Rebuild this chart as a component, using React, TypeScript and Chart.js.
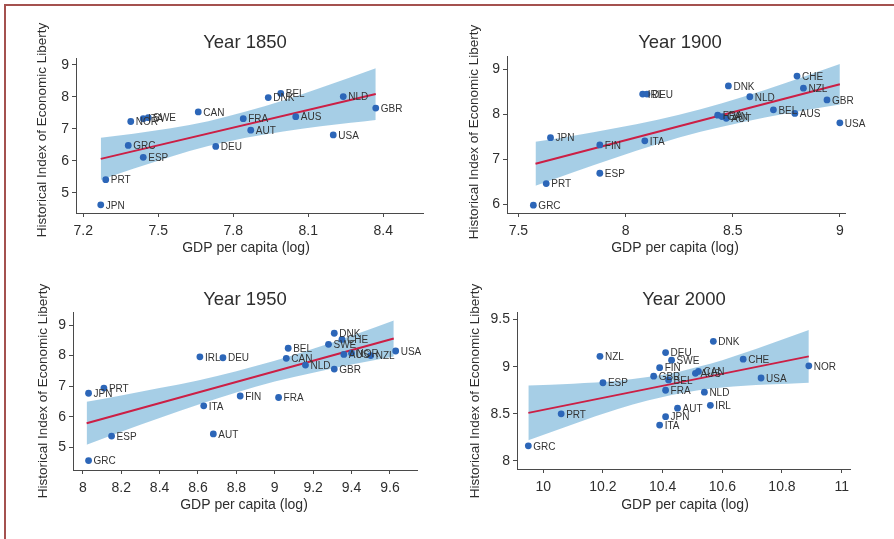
import React, { useEffect, useRef } from "react";
import { Chart, registerables } from "chart.js";

Chart.register(...registerables);

const FONT = "'Liberation Sans', Arial, Helvetica, sans-serif";

// ---------- Year 1850 ----------
const codes1850 = ["JPN", "PRT", "GRC", "ESP", "NOR", "ITA", "SWE", "CAN", "DEU", "FRA", "AUT", "DNK", "BEL", "AUS", "USA", "NLD", "GBR"];
const gdp1850 = [7.27, 7.29, 7.38, 7.44, 7.39, 7.44, 7.46, 7.66, 7.73, 7.84, 7.87, 7.94, 7.99, 8.05, 8.2, 8.24, 8.37];
const lib1850 = [4.62, 5.41, 6.48, 6.11, 7.23, 7.32, 7.35, 7.53, 6.45, 7.32, 6.96, 7.98, 8.11, 7.38, 6.81, 8.01, 7.65];
const fitX1850 = [7.27, 8.37];
const fitY1850 = [6.06, 8.09];
const bandX1850 = [7.27, 7.4, 7.55, 7.7, 7.85, 8.0, 8.15, 8.27, 8.37];
const bandHi1850 = [6.72, 6.85, 7.02, 7.24, 7.54, 7.89, 8.29, 8.62, 8.9];
const bandLo1850 = [5.4, 5.75, 6.13, 6.46, 6.72, 6.92, 7.08, 7.19, 7.28];
const xTicks1850 = [7.2, 7.5, 7.8, 8.1, 8.4];
const yTicks1850 = [5, 6, 7, 8, 9];

// ---------- Year 1900 ----------
const codes1900 = ["GRC", "PRT", "JPN", "FIN", "ESP", "ITA", "IRL", "DEU", "DNK", "NLD", "FRA", "CAN", "AUT", "BEL", "AUS", "CHE", "NZL", "GBR", "USA"];
const gdp1900 = [7.57, 7.63, 7.65, 7.88, 7.88, 8.09, 8.08, 8.1, 8.48, 8.58, 8.43, 8.45, 8.47, 8.69, 8.79, 8.8, 8.83, 8.94, 9.0];
const lib1900 = [5.98, 6.46, 7.48, 7.32, 6.69, 7.41, 8.45, 8.45, 8.63, 8.39, 7.98, 7.95, 7.91, 8.1, 8.02, 8.85, 8.58, 8.32, 7.81];
const fitX1900 = [7.58, 9.0];
const fitY1900 = [6.9, 8.67];
const bandX1900 = [7.58, 7.75, 7.95, 8.15, 8.35, 8.55, 8.75, 8.9, 9.0];
const bandHi1900 = [7.39, 7.52, 7.69, 7.88, 8.11, 8.39, 8.7, 8.95, 9.12];
const bandLo1900 = [6.41, 6.7, 7.03, 7.34, 7.61, 7.83, 8.02, 8.14, 8.22];
const xTicks1900 = [7.5, 8, 8.5, 9];
const yTicks1900 = [6, 7, 8, 9];

// ---------- Year 1950 ----------
const codes1950 = ["GRC", "JPN", "PRT", "ESP", "IRL", "DEU", "ITA", "AUT", "FIN", "FRA", "BEL", "CAN", "NLD", "GBR", "DNK", "SWE", "CHE", "AUS", "NOR", "NZL", "USA"];
const gdp1950 = [8.03, 8.03, 8.11, 8.15, 8.61, 8.73, 8.63, 8.68, 8.82, 9.02, 9.07, 9.06, 9.16, 9.31, 9.31, 9.28, 9.35, 9.36, 9.4, 9.5, 9.63];
const lib1950 = [4.57, 6.77, 6.94, 5.37, 7.96, 7.93, 6.36, 5.44, 6.68, 6.63, 8.24, 7.91, 7.69, 7.56, 8.73, 8.37, 8.53, 8.04, 8.08, 8.0, 8.15];
const fitX1950 = [8.02, 9.62];
const fitY1950 = [5.79, 8.56];
const bandX1950 = [8.02, 8.2, 8.4, 8.6, 8.8, 9.0, 9.2, 9.4, 9.62];
const bandHi1950 = [6.49, 6.7, 6.94, 7.19, 7.49, 7.83, 8.22, 8.65, 9.15];
const bandLo1950 = [5.09, 5.51, 5.96, 6.39, 6.79, 7.15, 7.44, 7.71, 7.97];
const xTicks1950 = [8, 8.2, 8.4, 8.6, 8.8, 9, 9.2, 9.4, 9.6];
const yTicks1950 = [5, 6, 7, 8, 9];

// ---------- Year 2000 ----------
const codes2000 = ["GRC", "PRT", "NZL", "ESP", "GBR", "FIN", "DEU", "SWE", "FRA", "BEL", "AUS", "CAN", "DNK", "NLD", "IRL", "AUT", "JPN", "ITA", "CHE", "USA", "NOR"];
const gdp2000 = [9.95, 10.06, 10.19, 10.2, 10.37, 10.39, 10.41, 10.43, 10.41, 10.42, 10.51, 10.52, 10.57, 10.54, 10.56, 10.45, 10.41, 10.39, 10.67, 10.73, 10.89];
const lib2000 = [8.16, 8.5, 9.11, 8.83, 8.9, 8.99, 9.15, 9.07, 8.75, 8.86, 8.93, 8.95, 9.27, 8.73, 8.59, 8.56, 8.47, 8.38, 9.08, 8.88, 9.01];
const fitX2000 = [9.95, 10.89];
const fitY2000 = [8.51, 9.11];
const bandX2000 = [9.95, 10.1, 10.25, 10.35, 10.43, 10.52, 10.6, 10.75, 10.89];
const bandHi2000 = [8.8, 8.82, 8.85, 8.89, 8.93, 9.0, 9.07, 9.23, 9.39];
const bandLo2000 = [8.22, 8.39, 8.55, 8.64, 8.7, 8.75, 8.78, 8.81, 8.83];
const xTicks2000 = [10, 10.2, 10.4, 10.6, 10.8, 11];
const yTicks2000 = [8, 8.5, 9, 9.5];

const Y_TITLE = "Historical Index of Economic Liberty";
const X_TITLE = "GDP per capita (log)";

type Panel = {
  title: string;
  codes: string[];
  gdp: number[];
  lib: number[];
  fitX: number[];
  fitY: number[];
  bandX: number[];
  bandHi: number[];
  bandLo: number[];
  xTicks: number[];
  yTicks: number[];
  box: { left: number; top: number; w: number; h: number };
  plot: { l: number; t: number; r: number; b: number };
  xRange: [number, number];
  yRange: [number, number];
  titlePos: [number, number];
  yTitlePos: [number, number];
  xTitlePos: [number, number];
};

const AXIS_W = 30;
const AXIS_H = 30;

const panels: Panel[] = [
  {
    title: "Year 1850", codes: codes1850, gdp: gdp1850, lib: lib1850,
    fitX: fitX1850, fitY: fitY1850, bandX: bandX1850, bandHi: bandHi1850, bandLo: bandLo1850,
    xTicks: xTicks1850, yTicks: yTicks1850,
    box: { left: 0, top: 0, w: 447, h: 270 },
    plot: { l: 76, t: 58, r: 423, b: 213 },
    xRange: [7.171, 8.559], yRange: [4.365, 9.219],
    titlePos: [245, 43], yTitlePos: [42, 130], xTitlePos: [246, 248],
  },
  {
    title: "Year 1900", codes: codes1900, gdp: gdp1900, lib: lib1900,
    fitX: fitX1900, fitY: fitY1900, bandX: bandX1900, bandHi: bandHi1900, bandLo: bandLo1900,
    xTicks: xTicks1900, yTicks: yTicks1900,
    box: { left: 447, top: 0, w: 447, h: 270 },
    plot: { l: 507, t: 56, r: 845, b: 213 },
    xRange: [7.447, 9.024], yRange: [5.807, 9.296],
    titlePos: [680, 43], yTitlePos: [474, 132], xTitlePos: [675, 248],
  },
  {
    title: "Year 1950", codes: codes1950, gdp: gdp1950, lib: lib1950,
    fitX: fitX1950, fitY: fitY1950, bandX: bandX1950, bandHi: bandHi1950, bandLo: bandLo1950,
    xTicks: xTicks1950, yTicks: yTicks1950,
    box: { left: 0, top: 270, w: 447, h: 269 },
    plot: { l: 73, t: 312, r: 417, b: 470 },
    xRange: [7.949, 9.741], yRange: [4.261, 9.425],
    titlePos: [245, 300], yTitlePos: [43, 391], xTitlePos: [244, 505],
  },
  {
    title: "Year 2000", codes: codes2000, gdp: gdp2000, lib: lib2000,
    fitX: fitX2000, fitY: fitY2000, bandX: bandX2000, bandHi: bandHi2000, bandLo: bandLo2000,
    xTicks: xTicks2000, yTicks: yTicks2000,
    box: { left: 447, top: 270, w: 447, h: 269 },
    plot: { l: 517, t: 312, r: 850, b: 469 },
    xRange: [9.912, 11.028], yRange: [7.914, 9.581],
    titlePos: [684, 300], yTitlePos: [475, 391], xTitlePos: [685, 505],
  },
];

const POINT_COLOR = "#2c66b8";
const LINE_COLOR = "#cc1f45";
const BAND_COLOR = "rgba(150, 198, 226, 0.85)";
const TEXT_COLOR = "#2e2e2e";
const AXIS_COLOR = "#4a4a4a";

function PanelChart({ p }: { p: Panel }) {
  const ref = useRef<HTMLCanvasElement>(null);

  useEffect(() => {
    const canvas = ref.current;
    if (!canvas) return;
    const ox = p.box.left;
    const oy = p.box.top;

    const textPlugin = {
      id: "panelText",
      afterDraw(chart: any) {
        const c = chart.ctx as CanvasRenderingContext2D;
        c.save();
        c.fillStyle = TEXT_COLOR;
        c.textAlign = "center";
        c.textBaseline = "middle";
        c.font = `18.5px ${FONT}`;
        c.fillText(p.title, p.titlePos[0] - ox, p.titlePos[1] - oy);
        c.font = `14px ${FONT}`;
        c.fillText(X_TITLE, p.xTitlePos[0] - ox, p.xTitlePos[1] - oy);
        c.translate(p.yTitlePos[0] - ox, p.yTitlePos[1] - oy);
        c.rotate(-Math.PI / 2);
        c.font = `13.5px ${FONT}`;
        c.fillText(Y_TITLE, 0, 0);
        c.restore();
      },
    };

    const labelPlugin = {
      id: "pointLabels",
      afterDatasetsDraw(chart: any) {
        const c = chart.ctx as CanvasRenderingContext2D;
        const meta = chart.getDatasetMeta(0);
        c.save();
        c.fillStyle = "#333333";
        c.font = `10px ${FONT}`;
        c.textAlign = "left";
        c.textBaseline = "middle";
        meta.data.forEach((el: any, i: number) => {
          c.fillText(p.codes[i], el.x + 5, el.y + 1);
        });
        c.restore();
      },
    };

    const pad = {
      left: p.plot.l - ox - AXIS_W,
      top: p.plot.t - oy,
      right: ox + p.box.w - p.plot.r,
      bottom: oy + p.box.h - p.plot.b - AXIS_H,
    };

    const chart = new Chart(canvas, {
      type: "scatter",
      data: {
        datasets: [
          {
            data: p.gdp.map((g, i) => ({ x: g, y: p.lib[i] })),
            backgroundColor: POINT_COLOR,
            borderColor: POINT_COLOR,
            pointRadius: 3.4,
            borderWidth: 0,
            clip: false as any,
          },
          {
            data: p.fitX.map((x, i) => ({ x, y: p.fitY[i] })),
            showLine: true,
            borderColor: LINE_COLOR,
            borderWidth: 2,
            pointRadius: 0,
            fill: false,
          },
          {
            data: p.bandX.map((x, i) => ({ x, y: p.bandHi[i] })),
            showLine: true,
            borderWidth: 0,
            borderColor: "rgba(0,0,0,0)",
            backgroundColor: BAND_COLOR,
            pointRadius: 0,
            cubicInterpolationMode: "monotone",
            fill: "+1",
          },
          {
            data: p.bandX.map((x, i) => ({ x, y: p.bandLo[i] })),
            showLine: true,
            borderWidth: 0,
            borderColor: "rgba(0,0,0,0)",
            pointRadius: 0,
            cubicInterpolationMode: "monotone",
            fill: false,
          },
        ] as any,
      },
      options: {
        animation: false,
        responsive: false,
        maintainAspectRatio: false,
        devicePixelRatio: 1,
        events: [],
        layout: { padding: pad },
        plugins: {
          legend: { display: false },
          tooltip: { enabled: false },
          title: { display: false },
        },
        scales: {
          x: {
            type: "linear",
            min: p.xRange[0],
            max: p.xRange[1],
            afterBuildTicks: (s: any) => {
              s.ticks = p.xTicks.map((v) => ({ value: v }));
            },
            afterFit: (s: any) => {
              s.height = AXIS_H;
            },
            ticks: {
              font: { family: FONT, size: 14 },
              color: TEXT_COLOR,
              padding: 6,
              maxRotation: 0,
              autoSkip: false,
              callback: (v: any) => String(v),
            },
            grid: { drawOnChartArea: false, drawTicks: true, tickLength: 4, color: AXIS_COLOR },
            border: { display: true, color: AXIS_COLOR, width: 1 },
          },
          y: {
            type: "linear",
            min: p.yRange[0],
            max: p.yRange[1],
            afterBuildTicks: (s: any) => {
              s.ticks = p.yTicks.map((v) => ({ value: v }));
            },
            afterFit: (s: any) => {
              s.width = AXIS_W;
            },
            ticks: {
              font: { family: FONT, size: 14 },
              color: TEXT_COLOR,
              padding: 3,
              autoSkip: false,
              callback: (v: any) => String(v),
            },
            grid: { drawOnChartArea: false, drawTicks: true, tickLength: 4, color: AXIS_COLOR },
            border: { display: true, color: AXIS_COLOR, width: 1 },
          },
        },
      } as any,
      plugins: [textPlugin, labelPlugin],
    });

    return () => chart.destroy();
  }, [p]);

  return (
    <canvas
      ref={ref}
      width={p.box.w}
      height={p.box.h}
      style={{
        position: "absolute",
        left: p.box.left,
        top: p.box.top,
        width: p.box.w,
        height: p.box.h,
      }}
    />
  );
}

export default function App() {
  return (
    <div
      style={{
        position: "fixed",
        left: 0,
        top: 0,
        width: 894,
        height: 539,
        background: "#ffffff",
        overflow: "hidden",
      }}
    >
      {panels.map((p) => (
        <PanelChart key={p.title} p={p} />
      ))}
      <div style={{ position: "absolute", left: 4, top: 4, width: 890, height: 2, background: "#a4514f" }} />
      <div style={{ position: "absolute", left: 4, top: 4, width: 2, height: 535, background: "#a4514f" }} />
    </div>
  );
}
